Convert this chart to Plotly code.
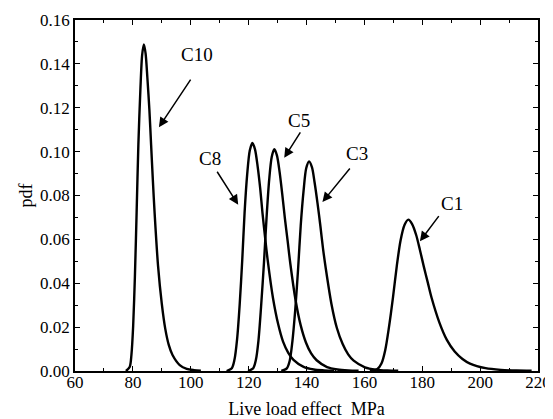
import plotly.graph_objects as go

# Values (x in MPa, pdf)
c10_x = [77.6, 78.9, 79.5, 80.1, 80.7, 81.3, 81.9, 82.6, 83.2, 83.8, 84.4, 85.0, 85.7, 86.3, 86.9, 87.5, 88.7, 90.0, 91.2, 92.4, 93.7, 96.2, 98.6, 101.1, 103.5]
c10_y = [0.0, 0.00185, 0.0074, 0.0205, 0.0431, 0.0726, 0.1032, 0.1284, 0.1440, 0.1489, 0.1447, 0.1339, 0.1192, 0.1031, 0.0871, 0.0723, 0.0479, 0.0306, 0.0192, 0.0119, 0.0073, 0.0027, 0.0010, 0.0004, 0.0001]

c8_x = [112.4, 114.2, 115.1, 116.0, 116.9, 117.8, 118.6, 119.5, 120.4, 121.3, 122.2, 123.1, 124.0, 124.8, 125.7, 126.6, 128.4, 130.2, 131.9, 133.7, 135.5, 139.0, 142.5, 146.1, 149.6]
c8_y = [0.0, 0.0013, 0.0051, 0.0143, 0.0301, 0.0507, 0.0720, 0.0896, 0.1005, 0.1039, 0.1010, 0.0934, 0.0832, 0.0719, 0.0608, 0.0504, 0.0334, 0.0214, 0.0134, 0.0083, 0.0051, 0.0019, 0.0007, 0.0003, 0.0001]

c5_x = [119.8, 121.6, 122.5, 123.4, 124.3, 125.3, 126.2, 127.1, 128.0, 128.9, 129.8, 130.7, 131.6, 132.5, 133.5, 134.4, 136.2, 138.0, 139.8, 141.6, 143.5, 147.1, 150.7, 154.4, 158.0]
c5_y = [0.0, 0.0013, 0.0050, 0.0139, 0.0293, 0.0493, 0.0700, 0.0871, 0.0977, 0.1011, 0.0982, 0.0908, 0.0809, 0.0699, 0.0591, 0.0490, 0.0325, 0.0208, 0.0130, 0.0080, 0.0049, 0.0018, 0.0007, 0.00025, 0.0001]

c3_x = [131.3, 133.2, 134.2, 135.1, 136.1, 137.1, 138.0, 139.0, 139.9, 140.9, 141.9, 142.8, 143.8, 144.8, 145.7, 146.7, 148.6, 150.5, 152.5, 154.4, 156.3, 160.2, 164.0, 167.9, 171.7]
c3_y = [0.0, 0.0012, 0.0047, 0.0132, 0.0277, 0.0466, 0.0662, 0.0823, 0.0924, 0.0955, 0.0928, 0.0859, 0.0765, 0.0661, 0.0559, 0.0464, 0.0307, 0.0196, 0.0123, 0.0076, 0.0047, 0.0017, 0.0006, 0.0002, 0.0001]

c1_x = [161.9, 164.5, 165.9, 167.2, 168.5, 169.9, 171.2, 172.5, 173.9, 175.2, 176.5, 177.9, 179.2, 180.5, 181.9, 183.2, 185.9, 188.5, 191.2, 193.9, 196.5, 201.9, 207.2, 212.5, 217.8]
c1_y = [0.0, 0.0009, 0.0034, 0.0095, 0.0200, 0.0337, 0.0478, 0.0595, 0.0667, 0.0690, 0.0670, 0.0620, 0.0552, 0.0478, 0.0404, 0.0335, 0.0222, 0.0142, 0.0089, 0.0055, 0.0034, 0.0013, 0.0005, 0.0002, 0.0001]

labels = ["C10", "C8", "C5", "C3", "C1"]
# arrow tip, arrow tail, label position (data units)
tip_x = [89.0, 116.4, 132.3, 145.5, 179.2]
tip_y = [0.1111, 0.0758, 0.0972, 0.0770, 0.0591]
tail_x = [100.3, 108.8, 138.2, 155.4, 186.1]
tail_y = [0.1335, 0.0915, 0.1095, 0.0930, 0.0713]
text_x = [102.2, 106.8, 137.4, 157.5, 190.2]
text_y = [0.1443, 0.0970, 0.1140, 0.0990, 0.0765]

x_ticks = [60, 80, 100, 120, 140, 160, 180, 200, 220]
y_ticks = [0.00, 0.02, 0.04, 0.06, 0.08, 0.10, 0.12, 0.14, 0.16]

FONT = "Liberation Serif"

fig = go.Figure()
for xs, ys in [(c10_x, c10_y), (c8_x, c8_y), (c5_x, c5_y), (c3_x, c3_y), (c1_x, c1_y)]:
    fig.add_trace(go.Scatter(x=xs, y=ys, mode="lines",
                             line=dict(color="black", width=2.4, shape="spline", smoothing=0.8),
                             showlegend=False, hoverinfo="skip"))

for i, lab in enumerate(labels):
    fig.add_annotation(x=tip_x[i], y=tip_y[i], ax=tail_x[i], ay=tail_y[i],
                       xref="x", yref="y", axref="x", ayref="y", text="",
                       showarrow=True, arrowhead=2, arrowsize=1.3, arrowwidth=1.5,
                       arrowcolor="black", standoff=0, startstandoff=0)
    fig.add_annotation(x=text_x[i], y=text_y[i], xref="x", yref="y", text=lab,
                       showarrow=False, font=dict(family=FONT, size=19, color="black"))

axis_common = dict(showline=True, linecolor="black", linewidth=1.8, mirror="ticks",
                   ticks="inside", ticklen=5, tickwidth=1.3, tickcolor="black",
                   showgrid=False, zeroline=False, automargin=False,
                   tickfont=dict(family=FONT, size=17, color="black"))

fig.update_xaxes(range=[60, 220], tickvals=x_ticks, ticktext=[str(v) for v in x_ticks],
                 minor=dict(ticks="inside", ticklen=3, tickwidth=1.1, tickcolor="black", dtick=10),
                 ticklabelstandoff=-5,
                 title=dict(text="Live load effect  MPa", font=dict(family=FONT, size=18, color="black"), standoff=22),
                 **axis_common)
fig.update_yaxes(range=[0, 0.16], tickvals=y_ticks, ticktext=[f"{v:.2f}" for v in y_ticks],
                 minor=dict(ticks="inside", ticklen=3, tickwidth=1.1, tickcolor="black", dtick=0.01),
                 title=dict(text="pdf", font=dict(family=FONT, size=18, color="black"), standoff=3),
                 **axis_common)

# The page body adds an 8px offset, so the figure is 8px smaller and margins compensate
fig.update_layout(width=545, height=411, margin=dict(l=67, r=15, t=12, b=48),
                  plot_bgcolor="white", paper_bgcolor="white")

fig.write_html("out.html")
